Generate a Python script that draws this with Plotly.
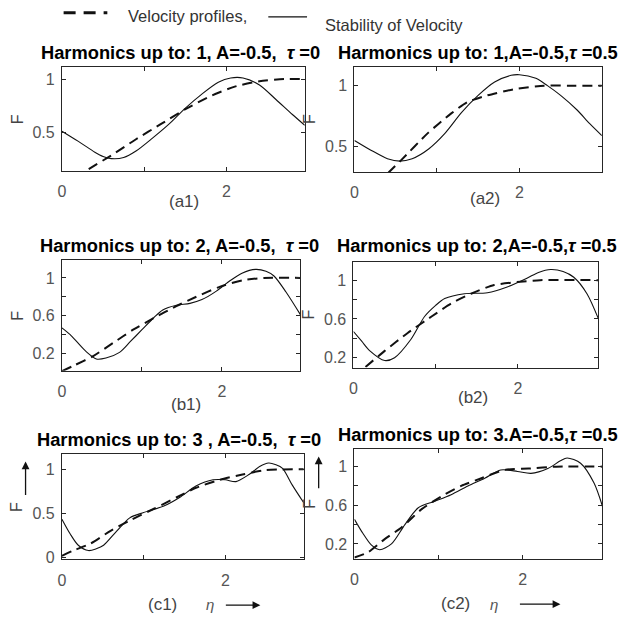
import plotly.graph_objects as go

# ---------------- data ----------------
eta_a1_s = [0, 0.2, 0.4, 0.5, 0.6, 0.75, 0.9, 1.1, 1.3, 1.5, 1.7, 1.9, 2.05, 2.2, 2.4, 2.6, 2.8, 2.95]
F_a1_s   = [0.515, 0.42, 0.32, 0.28, 0.26, 0.27, 0.33, 0.45, 0.58, 0.73, 0.86, 0.97, 1.01, 1.01, 0.945, 0.81, 0.67, 0.57]
eta_a1_d = [0, 0.3, 0.6, 0.9, 1.2, 1.5, 1.8, 2.1, 2.4, 2.7, 2.95]
F_a1_d   = [0, 0.15, 0.29, 0.44, 0.58, 0.72, 0.84, 0.93, 0.98, 1.0, 1.0]

eta_a2_s = [0, 0.2, 0.4, 0.55, 0.7, 0.9, 1.1, 1.3, 1.5, 1.7, 1.9, 2.0, 2.2, 2.34, 2.5, 2.7, 2.85, 3.0]
F_a2_s   = [0.55, 0.47, 0.40, 0.38, 0.40, 0.48, 0.61, 0.78, 0.92, 1.03, 1.085, 1.09, 1.06, 1.0, 0.92, 0.80, 0.69, 0.59]
eta_a2_d = [0, 0.42, 0.57, 0.89, 1.17, 1.37, 1.61, 1.93, 2.3, 2.6, 3.0]
F_a2_d   = [0, 0.29, 0.39, 0.61, 0.77, 0.865, 0.92, 0.97, 1.0, 1.0, 1.0]

eta_b1_s = [0, 0.1, 0.2, 0.3, 0.43, 0.55, 0.72, 0.85, 1.0, 1.15, 1.26, 1.43, 1.6, 1.75, 1.93, 2.1, 2.25, 2.42, 2.55, 2.65, 2.8, 2.98]
F_b1_s   = [0.47, 0.40, 0.31, 0.22, 0.14, 0.15, 0.21, 0.32, 0.45, 0.58, 0.66, 0.71, 0.73, 0.77, 0.86, 0.97, 1.05, 1.09, 1.07, 1.02, 0.85, 0.61]
eta_b1_d = [0, 0.15, 0.39, 0.64, 0.89, 1.14, 1.43, 1.68, 1.97, 2.26, 2.52, 2.98]
F_b1_d   = [0.01, 0.07, 0.17, 0.31, 0.45, 0.57, 0.70, 0.80, 0.905, 0.975, 1.0, 1.0]

eta_b2_s = [0, 0.1, 0.2, 0.38, 0.5, 0.7, 0.865, 1.0, 1.11, 1.35, 1.63, 1.87, 2.11, 2.25, 2.40, 2.55, 2.68, 2.84, 2.98]
F_b2_s   = [0.47, 0.37, 0.27, 0.17, 0.20, 0.39, 0.625, 0.74, 0.81, 0.86, 0.87, 0.93, 1.02, 1.08, 1.11, 1.09, 1.03, 0.86, 0.60]
eta_b2_d = [0, 0.14, 0.38, 0.66, 0.95, 1.19, 1.43, 1.71, 1.99, 2.27, 2.98]
F_b2_d   = [0, 0.10, 0.27, 0.455, 0.625, 0.76, 0.86, 0.95, 0.98, 1.0, 1.0]

eta_c1_s = [0, 0.1, 0.2, 0.325, 0.42, 0.51, 0.67, 0.83, 1.0, 1.24, 1.44, 1.64, 1.85, 2.0, 2.13, 2.29, 2.42, 2.53, 2.62, 2.70, 2.82, 2.96]
F_c1_s   = [0.435, 0.27, 0.14, 0.08, 0.10, 0.14, 0.30, 0.45, 0.51, 0.58, 0.68, 0.81, 0.88, 0.88, 0.86, 0.94, 1.03, 1.07, 1.05, 1.01, 0.82, 0.62]
eta_c1_d = [0, 0.14, 0.345, 0.59, 0.83, 1.12, 1.40, 1.64, 1.93, 2.21, 2.49, 2.96]
F_c1_d   = [0.02, 0.08, 0.156, 0.30, 0.42, 0.55, 0.68, 0.79, 0.88, 0.94, 0.99, 1.0]

eta_c2_s = [0, 0.1, 0.2, 0.30, 0.44, 0.60, 0.76, 0.95, 1.15, 1.35, 1.55, 1.74, 1.94, 2.10, 2.30, 2.45, 2.53, 2.69, 2.85, 2.95]
F_c2_s   = [0.455, 0.31, 0.19, 0.14, 0.20, 0.40, 0.575, 0.64, 0.71, 0.80, 0.88, 0.965, 0.95, 0.93, 0.98, 1.06, 1.09, 1.035, 0.83, 0.59]
eta_c2_d = [0, 0.165, 0.36, 0.56, 0.80, 1.03, 1.27, 1.51, 1.78, 2.07, 2.4, 2.95]
F_c2_d   = [0.06, 0.115, 0.25, 0.37, 0.56, 0.69, 0.80, 0.88, 0.965, 0.98, 1.0, 1.0]

titles = {
    'a1': 'Harmonics up to: 1, A=-0.5,  <i>τ</i> =0',
    'a2': 'Harmonics up to: 1,A=-0.5,<i>τ</i> =0.5',
    'b1': 'Harmonics up to: 2, A=-0.5,  <i>τ</i> =0',
    'b2': 'Harmonics up to: 2,A=-0.5,<i>τ</i> =0.5',
    'c1': 'Harmonics up to: 3 , A=-0.5,  <i>τ</i> =0',
    'c2': 'Harmonics up to: 3.A=-0.5,<i>τ</i> =0.5',
}
panel_labels = {'a1': '(a1)', 'a2': '(a2)', 'b1': '(b1)', 'b2': '(b2)', 'c1': '(c1)', 'c2': '(c2)'}
x_tickvals = [0, 1, 2]
x_ticktext = ['0', '', '2']
y_ticks = {
    'a1': ([0.5, 1], ['0.5', '1']),
    'a2': ([0.5, 1], ['0.5', '1']),
    'b1': ([0.2, 0.4, 0.6, 0.8, 1], ['0.2', '', '0.6', '', '1']),
    'b2': ([0.2, 0.4, 0.6, 0.8, 1], ['0.2', '', '0.6', '', '1']),
    'c1': ([0, 0.5, 1], ['0', '0.5', '1']),
    'c2': ([0.2, 0.4, 0.6, 0.8, 1], ['0.2', '', '0.6', '', '1']),
}
x_ranges = {'a1': [0, 2.95], 'a2': [0, 3.0], 'b1': [0, 2.98], 'b2': [0, 2.98], 'c1': [0, 2.96], 'c2': [0, 2.95]}
y_ranges = {'a1': [0.144, 1.11], 'a2': [0.29, 1.157], 'b1': [0.014, 1.186],
            'b2': [0.098, 1.187], 'c1': [-0.02, 1.17], 'c2': [0.047, 1.18]}

series = {
    'a1': (eta_a1_s, F_a1_s, eta_a1_d, F_a1_d),
    'a2': (eta_a2_s, F_a2_s, eta_a2_d, F_a2_d),
    'b1': (eta_b1_s, F_b1_s, eta_b1_d, F_b1_d),
    'b2': (eta_b2_s, F_b2_s, eta_b2_d, F_b2_d),
    'c1': (eta_c1_s, F_c1_s, eta_c1_d, F_c1_d),
    'c2': (eta_c2_s, F_c2_s, eta_c2_d, F_c2_d),
}

# ---------------- layout (pixel boxes) ----------------
W, H = 624, 628
boxes = {
    'a1': (58.3, 302.7, 68.0, 173.0),
    'a2': (352.7, 601.7, 67.3, 174.0),
    'b1': (58.3, 298.3, 263.3, 375.0),
    'b2': (351.7, 598.3, 265.0, 371.7),
    'c1': (58.3, 301.7, 459.3, 565.7),
    'c2': (352.7, 602.3, 454.3, 565.0),
}
title_pos = {'a1': (177.5, 53), 'a2': (477.5, 53), 'b1': (177, 248), 'b2': (476, 248),
             'c1': (176.5, 444), 'c2': (477.5, 439)}
label_pos = {'a1': (181, 204), 'a2': (484, 200.5), 'b1': (183, 409.5), 'b2': (472, 401.5),
             'c1': (160, 611), 'c2': (454, 610)}

FONT = 'Liberation Sans, Arial, sans-serif'
AX = '#262626'
TICKC = '#555555'


def px(x, y):
    return x / W, 1 - y / H


order = ['a1', 'a2', 'b1', 'b2', 'c1', 'c2']
fig = go.Figure()
annotations = []
shapes = []

for i, k in enumerate(order):
    n = '' if i == 0 else str(i + 1)
    xs, ys, xd, yd = series[k]
    fig.add_trace(go.Scatter(x=xd, y=yd, mode='lines', xaxis='x' + n, yaxis='y' + n,
                             line=dict(color='#111111', width=2, dash='10px,6px', shape='spline', smoothing=0.6),
                             showlegend=False, hoverinfo='skip'))
    fig.add_trace(go.Scatter(x=xs, y=ys, mode='lines', xaxis='x' + n, yaxis='y' + n,
                             line=dict(color='#111111', width=1.1, shape='spline', smoothing=0.8),
                             showlegend=False, hoverinfo='skip'))
    x0, x1, y0, y1 = boxes[k]
    common = dict(showline=True, linecolor=AX, linewidth=1, mirror='ticks', ticks='inside',
                  ticklen=4, tickcolor=AX, showgrid=False, zeroline=False,
                  tickfont=dict(family=FONT, size=16, color=TICKC))
    fig.layout['xaxis' + n] = dict(domain=[x0 / W, x1 / W], anchor='y' + n, range=x_ranges[k],
                                   tickvals=x_tickvals, ticktext=x_ticktext, ticklabelstandoff=6, **common)
    tv, tt = y_ticks[k]
    fig.layout['yaxis' + n] = dict(domain=[1 - y1 / H, 1 - y0 / H], anchor='x' + n, range=y_ranges[k],
                                   tickvals=tv, ticktext=tt, ticklabelstandoff=3, **common)

    tx, ty = px(*title_pos[k])
    annotations.append(dict(text='<b>' + titles[k] + '</b>', x=tx, y=ty, xref='paper', yref='paper',
                            xanchor='center', yanchor='middle', showarrow=False,
                            font=dict(family=FONT, size=18.3, color='#000000')))
    lx, ly = px(*label_pos[k])
    annotations.append(dict(text=panel_labels[k], x=lx, y=ly, xref='paper', yref='paper',
                            xanchor='center', yanchor='middle', showarrow=False,
                            font=dict(family=FONT, size=17, color='#444444')))
    fx, fy = px(x0 - 45, (y0 + y1) / 2)
    annotations.append(dict(text='F', x=fx, y=fy, xref='paper', yref='paper', textangle=-90,
                            xanchor='center', yanchor='middle', showarrow=False,
                            font=dict(family=FONT, size=16, color='#444444')))

# eta labels and arrows for bottom row
for (ex, ey), (a0, a1, ay) in [((207, 611), (222, 258, 612)), ((493, 611), (518, 560, 611))]:
    x_, y_ = px(ex, ey)
    annotations.append(dict(text='<i>η</i>', x=x_, y=y_, xref='paper', yref='paper',
                            xanchor='center', yanchor='middle', showarrow=False,
                            font=dict(family=FONT, size=15, color='#555555')))
    hx, hy = px(a1, ay)
    annotations.append(dict(text='', x=hx, y=hy, xref='paper', yref='paper', showarrow=True,
                            ax=-(a1 - a0), ay=0, arrowhead=2, arrowsize=1.2, arrowwidth=1.3,
                            arrowcolor='#111111'))
# vertical arrows next to F in bottom row
for (vx, vb, vt) in [(21.7, 501.7, 466.7), (316.7, 495, 461.7)]:
    hx, hy = px(vx, vt)
    annotations.append(dict(text='', x=hx, y=hy, xref='paper', yref='paper', showarrow=True,
                            ax=0, ay=(vb - vt), arrowhead=2, arrowsize=1.2, arrowwidth=1.3,
                            arrowcolor='#111111'))

# top legend
lx0, ly0 = px(60, 13)
lx1, _ = px(104, 13)
shapes.append(dict(type='line', xref='paper', yref='paper', x0=lx0, x1=lx1, y0=ly0, y1=ly0,
                   line=dict(color='#111111', width=3, dash='12px,8px')))
sx0, sy0 = px(266, 17)
sx1, _ = px(305, 17)
shapes.append(dict(type='line', xref='paper', yref='paper', x0=sx0, x1=sx1, y0=sy0, y1=sy0,
                   line=dict(color='#111111', width=1.3)))
tx, ty = px(123, 16)
annotations.append(dict(text='Velocity profiles,', x=tx, y=ty, xref='paper', yref='paper',
                        xanchor='left', yanchor='middle', showarrow=False,
                        font=dict(family=FONT, size=16.5, color='#333333')))
tx, ty = px(321, 25)
annotations.append(dict(text='Stability of Velocity', x=tx, y=ty, xref='paper', yref='paper',
                        xanchor='left', yanchor='middle', showarrow=False,
                        font=dict(family=FONT, size=16.5, color='#333333')))

fig.update_layout(width=W, height=H, margin=dict(l=0, r=0, t=0, b=0),
                  paper_bgcolor='white', plot_bgcolor='white',
                  annotations=annotations, shapes=shapes, showlegend=False)

fig.write_html('out.html')
